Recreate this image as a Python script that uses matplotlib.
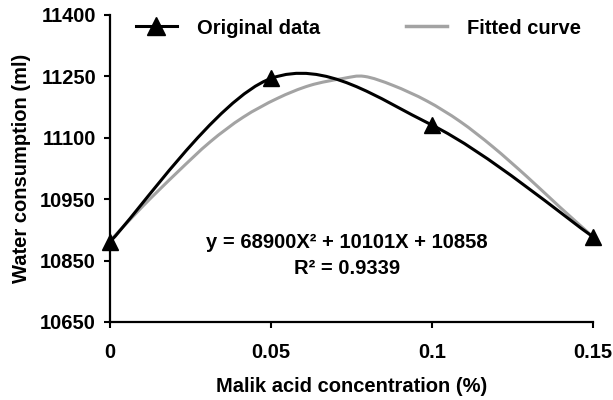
import numpy as np
import matplotlib
matplotlib.use("Agg")
import matplotlib.pyplot as plt
from matplotlib.path import Path
from matplotlib.patches import PathPatch
from matplotlib.lines import Line2D

plt.rcParams['font.family'] = ['Liberation Sans', 'DejaVu Sans']
plt.rcParams['font.weight'] = 'bold'
plt.rcParams['axes.labelweight'] = 'bold'

# measured points (triangles)
conc = [0, 0.05, 0.1, 0.15]
water = [10846, 11245, 11131, 10858]

# fitted curve
fit_conc = [0, 0.0102, 0.0208, 0.0311, 0.0413, 0.0519, 0.0621, 0.0724, 0.079,
            0.0879, 0.0984, 0.1087, 0.1189, 0.1295, 0.1398, 0.15]
fit_water = [10848, 10933, 11015, 11090, 11150, 11196, 11228, 11245, 11250,
             11228, 11190, 11140, 11078, 11005, 10930, 10858]

x_ticks = [0, 0.05, 0.1, 0.15]
x_labels = ['0', '0.05', '0.1', '0.15']
y_ticks = [10650, 10800, 10950, 11100, 11250, 11400]
y_labels = ['10650', '10850', '10950', '11100', '11250', '11400']

equation = "y = 68900X\u00b2 + 10101X + 10858\nR\u00b2 = 0.9339"


def smooth_path(xs, ys):
    # Excel style smoothed line (Catmull-Rom as cubic beziers)
    pts = np.column_stack([xs, ys]).astype(float)
    n = len(pts)
    verts = [pts[0]]
    codes = [Path.MOVETO]
    for i in range(n - 1):
        p0 = pts[max(i - 1, 0)]
        p1 = pts[i]
        p2 = pts[i + 1]
        p3 = pts[min(i + 2, n - 1)]
        verts += [p1 + (p2 - p0) / 6, p2 - (p3 - p1) / 6, p2]
        codes += [Path.CURVE4] * 3
    return Path(verts, codes)


fig = plt.figure(figsize=(6.13, 4.0), dpi=100)
ax = fig.add_axes([110 / 613, 78 / 400, 483 / 613, 307 / 400])

grey = '#a3a3a3'
ax.add_patch(PathPatch(smooth_path(fit_conc, fit_water), fill=False,
                       edgecolor=grey, lw=2.2, capstyle='round', zorder=2))
ax.add_patch(PathPatch(smooth_path(conc, water), fill=False,
                       edgecolor='black', lw=2.2, capstyle='round', zorder=3))
ax.plot(conc, water, ls='none', marker='^', ms=11, color='black', zorder=4,
        clip_on=False)

ax.set_xlim(0, 0.15)
ax.set_ylim(10650, 11400)
ax.set_xticks(x_ticks)
ax.set_xticklabels(x_labels)
ax.set_yticks(y_ticks)
ax.set_yticklabels(y_labels)
ax.tick_params(axis='both', labelsize=14.5, width=1.5, length=4, direction='out')
ax.tick_params(axis='x', pad=11)
ax.tick_params(axis='y', pad=6)
for s in ['top', 'right']:
    ax.spines[s].set_visible(False)
for s in ['left', 'bottom']:
    ax.spines[s].set_linewidth(1.6)

ax.set_xlabel('Malik acid concentration (%)', fontsize=14.5)
ax.xaxis.set_label_coords(0.5, -0.178)
ax.set_ylabel('Water consumption (ml)', fontsize=14.5)
ax.yaxis.set_label_coords(-0.163, 0.5)

ax.text(0.0736, 10812, equation, fontsize=14.5, ha='center', va='center',
        multialignment='center', linespacing=1.45)

handles = [Line2D([], [], color='black', lw=2.2, marker='^', ms=13),
           Line2D([], [], color=grey, lw=2.5)]
fig.legend(handles, ['Original data', 'Fitted curve'], loc='center',
           bbox_to_anchor=(0.585, 0.93), ncol=2, frameon=False, fontsize=14.5,
           handlelength=2.0, handletextpad=1.0, columnspacing=4.3)

fig.savefig('out.png', dpi=100)
